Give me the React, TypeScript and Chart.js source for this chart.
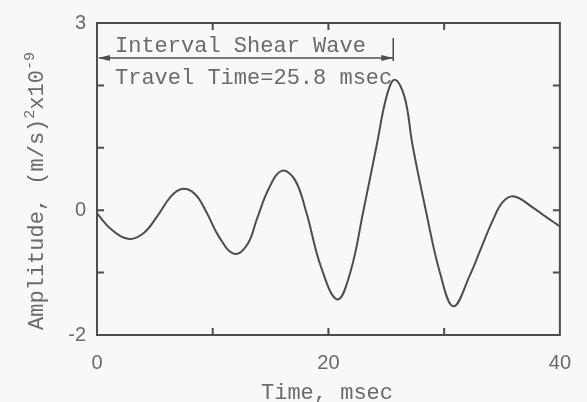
import React, { useEffect, useRef } from "react";
import { Chart, registerables } from "chart.js";

Chart.register(...registerables);

const TIME = [
  0, 1.25, 2.8, 4.07, 5.2, 6.34, 7.33, 8.46, 9.45, 10.59, 11.86, 12.99, 13.84, 14.83, 15.96, 17.09, 18.08, 19.36,
  20.77, 21.9, 23.03, 24.17, 25.02, 25.72, 26.57, 27.27, 28.41, 29.69, 30.81, 32.23, 33.08, 34.21, 35.06, 36.05,
  37.61, 38.74, 40,
];
const AMPLITUDE = [
  -0.05, -0.31, -0.46, -0.36, -0.1, 0.21, 0.34, 0.26, -0.03, -0.44, -0.7, -0.55, -0.13, 0.34, 0.63, 0.49, -0.03,
  -0.91, -1.43, -0.99, 0.0, 1.04, 1.82, 2.09, 1.82, 1.04, 0.0, -1.04, -1.54, -1.04, -0.66, -0.16, 0.13, 0.22,
  0.05, -0.1, -0.26,
];
const X_LABELS = [0, 20, 40];
const Y_LABELS = [3, 0, -2];
const X_MINOR = [10, 20, 30];
const Y_MINOR = [2, 1, 0, -1];
const ANNOT_LINE1 = "Interval Shear Wave";
const ANNOT_LINE2 = "Travel Time=25.8 msec";
const INTERVAL_END = 25.6;
const X_TITLE = "Time, msec";

const LINE = "#4d4d4d";
const TEXT = "#6a6a6a";
const BG = "#f8f8f7";
const MONO = "'Liberation Mono', 'DejaVu Sans Mono', monospace";
const SANS = "'Liberation Sans', Arial, sans-serif";

const framePlugin = {
  id: "frame",
  beforeDraw(chart: any) {
    const { ctx, width, height } = chart;
    ctx.save();
    ctx.fillStyle = BG;
    ctx.fillRect(0, 0, width, height);
    ctx.restore();
  },
  afterDraw(chart: any) {
    const { ctx, chartArea: a, scales } = chart;
    const xs = scales.x;
    const ys = scales.y;
    ctx.save();
    ctx.strokeStyle = LINE;
    ctx.lineWidth = 2;
    ctx.strokeRect(a.left, a.top, a.right - a.left, a.bottom - a.top);
    const TL = 7;
    ctx.beginPath();
    for (const v of X_MINOR) {
      const px = xs.getPixelForValue(v);
      ctx.moveTo(px, a.bottom);
      ctx.lineTo(px, a.bottom - TL);
      ctx.moveTo(px, a.top);
      ctx.lineTo(px, a.top + TL);
    }
    for (const v of Y_MINOR) {
      const py = ys.getPixelForValue(v);
      ctx.moveTo(a.left, py);
      ctx.lineTo(a.left + TL, py);
      ctx.moveTo(a.right, py);
      ctx.lineTo(a.right - TL, py);
    }
    ctx.stroke();

    // interval arrow
    const x0 = xs.getPixelForValue(0);
    const x1 = xs.getPixelForValue(INTERVAL_END);
    const ay = 58;
    ctx.lineWidth = 1.5;
    ctx.beginPath();
    ctx.moveTo(x0 + 2, ay);
    ctx.lineTo(x1, ay);
    ctx.moveTo(x1, 38);
    ctx.lineTo(x1, 61);
    ctx.stroke();
    ctx.fillStyle = LINE;
    ctx.beginPath();
    ctx.moveTo(x0 + 1, ay);
    ctx.lineTo(x0 + 13, ay - 3);
    ctx.lineTo(x0 + 13, ay + 3);
    ctx.closePath();
    ctx.fill();
    ctx.beginPath();
    ctx.moveTo(x1, ay);
    ctx.lineTo(x1 - 12, ay - 3);
    ctx.lineTo(x1 - 12, ay + 3);
    ctx.closePath();
    ctx.fill();

    // annotation text
    ctx.fillStyle = TEXT;
    ctx.font = `22px ${MONO}`;
    ctx.textAlign = "left";
    ctx.textBaseline = "alphabetic";
    ctx.fillText(ANNOT_LINE1, a.left + 18, 51.5);
    ctx.fillText(ANNOT_LINE2, a.left + 18, 83.5);

    // x title
    ctx.textAlign = "center";
    ctx.fillText(X_TITLE, 327, 399);

    // y title with superscripts
    const parts: [string, boolean][] = [
      ["Amplitude, (m/s)", false],
      ["2", true],
      ["x10", false],
      ["-9", true],
    ];
    const big = `22px ${MONO}`;
    const small = `15px ${MONO}`;
    let total = 0;
    const widths = parts.map(([t, sup]) => {
      ctx.font = sup ? small : big;
      const w = ctx.measureText(t).width;
      total += w;
      return w;
    });
    ctx.translate(43, 191);
    ctx.rotate(-Math.PI / 2);
    ctx.textAlign = "left";
    let cx = -total / 2;
    parts.forEach(([t, sup], i) => {
      ctx.font = sup ? small : big;
      ctx.fillText(t, cx, sup ? -9 : 0);
      cx += widths[i];
    });
    ctx.restore();
  },
};

export default function App() {
  const ref = useRef<HTMLCanvasElement | null>(null);
  useEffect(() => {
    if (!ref.current) return;
    const chart = new Chart(ref.current, {
      type: "line",
      data: {
        datasets: [
          {
            data: TIME.map((t, i) => ({ x: t, y: AMPLITUDE[i] })),
            borderColor: LINE,
            borderWidth: 2,
            pointRadius: 0,
            tension: 0.4,
            fill: false,
          },
        ],
      },
      options: {
        animation: false,
        responsive: false,
        maintainAspectRatio: false,
        layout: { padding: { left: 0, top: 14, right: 19, bottom: 0 } },
        plugins: { legend: { display: false }, tooltip: { enabled: false } },
        scales: {
          x: {
            type: "linear",
            min: 0,
            max: 40,
            grid: { display: true, drawOnChartArea: false, drawTicks: false },
            border: { display: false },
            afterFit(scale: any) {
              scale.height = 67;
            },
            ticks: {
              stepSize: 10,
              autoSkip: false,
              maxRotation: 0,
              padding: 16,
              color: TEXT,
              font: { family: SANS, size: 20 },
              callback: (v: any) => (X_LABELS.includes(Number(v)) ? String(v) : ""),
            },
          },
          y: {
            type: "linear",
            min: -2,
            max: 3,
            grid: { display: true, drawOnChartArea: false, drawTicks: false },
            border: { display: false },
            afterFit(scale: any) {
              scale.width = 97;
            },
            ticks: {
              stepSize: 1,
              autoSkip: false,
              padding: 11,
              color: TEXT,
              font: { family: SANS, size: 20 },
              callback: (v: any) => (Y_LABELS.includes(Number(v)) ? String(v) : ""),
            },
          },
        },
      },
      plugins: [framePlugin],
    });
    return () => chart.destroy();
  }, []);
  return (
    <div style={{ position: "fixed", left: 0, top: 0, width: 587, height: 402, background: BG }}>
      <canvas ref={ref} width={587} height={402} style={{ width: 587, height: 402 }} />
    </div>
  );
}
